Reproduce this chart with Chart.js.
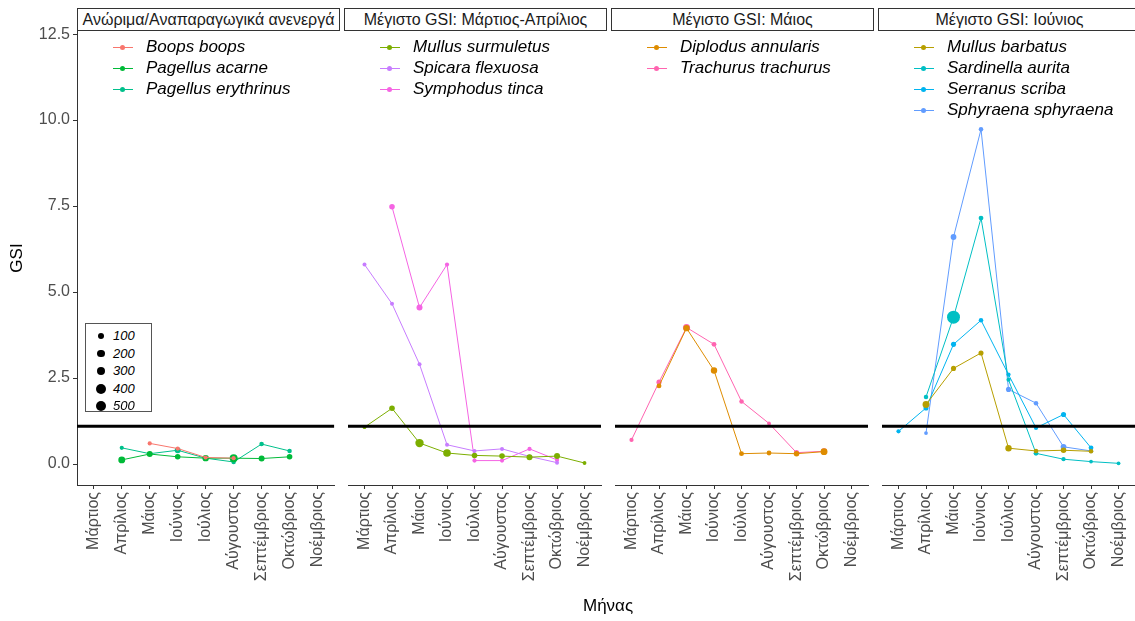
<!DOCTYPE html>
<html>
<head>
<meta charset="utf-8">
<script src="https://cdn.jsdelivr.net/npm/chart.js@4.4.1/dist/chart.umd.min.js"></script>
<style>
  html, body { margin: 0; padding: 0; background: #fff; overflow: hidden; }
  body { width: 1135px; height: 621px; position: relative; font-family: "Liberation Sans", Arial, sans-serif; }
  canvas { position: absolute; top: 0; }
  .strip { position: absolute; top: 8px; height: 23px; border: 1px solid #333; background: #fff;
           font-size: 16px; line-height: 21px; text-align: center; color: #1a1a1a; box-sizing: border-box; white-space: nowrap; }
  .legend { position: absolute; top: 36px; font-size: 17px; font-style: italic; color: #000; }
  .legend .row { height: 21px; line-height: 21px; position: relative; padding-left: 35px; white-space: nowrap; }
  .legend .key { position: absolute; left: 2px; top: 11px; width: 20px; height: 1px; }
  .legend .dot { position: absolute; left: 9px; top: 9px; width: 5px; height: 5px; border-radius: 50%; }
  .sizebox { position: absolute; left: 85px; top: 323px; width: 67px; height: 89px; border: 1px solid #555;
             box-sizing: border-box; background: #fff; font-size: 13px; font-style: italic; }
  .sizebox .row { position: absolute; left: 0; width: 64px; height: 17px; }
  .sizebox .c { position: absolute; background: #000; border-radius: 50%; }
  .sizebox .t { position: absolute; left: 27px; top: 1px; }
  .xtitle { position: absolute; left: 583px; top: 596px; font-size: 17px; color: #000; }
</style>
</head>
<body>
<script>
const months = ['Μάρτιος', 'Απρίλιος', 'Μάιος', 'Ιούνιος', 'Ιούλιος', 'Αύγουστος', 'Σεπτέμβριος', 'Οκτώβριος', 'Νοέμβριος'];
const yTicks = [0, 2.5, 5, 7.5, 10, 12.5];
const threshold = 1.1;
const sizeBreaks = [100, 200, 300, 400, 500];

const facetTitles = ['Ανώριμα/Αναπαραγωγικά ανενεργά', 'Μέγιστο GSI: Μάρτιος-Απρίλιος', 'Μέγιστο GSI: Μάιος', 'Μέγιστο GSI: Ιούνιος'];

// GSI per month (Μάρτιος..Νοέμβριος), null = no sample
const boopsBoops        = [null, null, 0.60, 0.45, 0.19, 0.17, null, null, null];
const pagellusAcarne    = [null, 0.12, 0.29, 0.21, 0.17, 0.17, 0.16, 0.21, null];
const pagellusErythrinus= [null, 0.47, 0.30, 0.40, 0.17, 0.06, 0.58, 0.38, null];
const mullusSurmuletus  = [1.07, 1.62, 0.61, 0.32, 0.25, 0.23, 0.20, 0.23, 0.03];
const spicaraFlexuosa   = [5.80, 4.66, 2.90, 0.56, 0.38, 0.44, 0.22, 0.04, null];
const symphodusTinca    = [null, 7.48, 4.55, 5.80, 0.10, 0.10, 0.44, 0.12, null];
const diplodusAnnularis = [null, 2.27, 3.95, 2.72, 0.30, 0.32, 0.30, 0.36, null];
const trachurusTrachurus= [0.70, 2.38, 3.97, 3.48, 1.82, 1.18, 0.33, 0.37, null];
const mullusBarbatus    = [null, 1.73, 2.78, 3.23, 0.46, 0.38, 0.40, 0.37, null];
const sardinellaAurita  = [null, 1.95, 4.27, 7.15, 2.45, 0.31, 0.14, 0.07, 0.02];
const serranusScriba    = [0.95, 1.63, 3.48, 4.18, 2.60, 1.05, 1.44, 0.47, null];
const sphyraenaSphyraena= [null, 0.90, 6.60, 9.73, 2.17, 1.77, 0.50, 0.38, null];

// sample size per month (drives point size)
const nBoops       = [0, 0, 30, 30, 30, 30, 0, 0, 0];
const nAcarne      = [0, 150, 100, 80, 120, 220, 100, 80, 0];
const nErythrinus  = [0, 30, 40, 100, 40, 40, 40, 40, 0];
const nSurmuletus  = [20, 80, 250, 200, 80, 80, 100, 100, 20];
const nSpicara     = [25, 25, 25, 25, 25, 25, 25, 25, 0];
const nSymphodus   = [0, 80, 100, 30, 30, 30, 30, 30, 0];
const nDiplodus    = [0, 50, 120, 120, 50, 50, 80, 150, 0];
const nTrachurus   = [30, 60, 160, 50, 40, 20, 60, 100, 0];
const nBarbatus    = [0, 150, 60, 60, 120, 40, 80, 40, 0];
const nSardinella  = [0, 40, 750, 50, 30, 50, 30, 20, 20];
const nSerranus    = [30, 60, 60, 40, 30, 30, 60, 50, 0];
const nSphyraena   = [0, 20, 90, 40, 60, 40, 90, 40, 0];

const facets = [
  [
    { name: 'Boops boops', v: boopsBoops, n: nBoops, color: '#F8766D' },
    { name: 'Pagellus acarne', v: pagellusAcarne, n: nAcarne, color: '#00BA38' },
    { name: 'Pagellus erythrinus', v: pagellusErythrinus, n: nErythrinus, color: '#00C08B' }
  ],
  [
    { name: 'Mullus surmuletus', v: mullusSurmuletus, n: nSurmuletus, color: '#7CAE00' },
    { name: 'Spicara flexuosa', v: spicaraFlexuosa, n: nSpicara, color: '#C77CFF' },
    { name: 'Symphodus tinca', v: symphodusTinca, n: nSymphodus, color: '#F564E3' }
  ],
  [
    { name: 'Diplodus annularis', v: diplodusAnnularis, n: nDiplodus, color: '#DE8C00' },
    { name: 'Trachurus trachurus', v: trachurusTrachurus, n: nTrachurus, color: '#FF64B0' }
  ],
  [
    { name: 'Mullus barbatus', v: mullusBarbatus, n: nBarbatus, color: '#B79F00' },
    { name: 'Sardinella aurita', v: sardinellaAurita, n: nSardinella, color: '#00BFC4' },
    { name: 'Serranus scriba', v: serranusScriba, n: nSerranus, color: '#00B4F0' },
    { name: 'Sphyraena sphyraena', v: sphyraenaSphyraena, n: nSphyraena, color: '#619CFF' }
  ]
];

const panelLeft = [77, 344, 611, 878];
const panelW = 263;
const yAxisW = 77;
const radius = n => 1 + 0.2 * Math.sqrt(n);

facets.forEach((species, f) => {
  const canvas = document.createElement('canvas');
  const left = f === 0 ? 0 : panelLeft[f];
  const w = f === 0 ? panelLeft[0] + panelW : panelW;
  canvas.width = w;
  canvas.height = 621;
  canvas.style.left = left + 'px';
  document.body.appendChild(canvas);

  const datasets = [{
    data: [{ x: -0.6, y: threshold }, { x: 8.6, y: threshold }],
    borderColor: '#000', borderWidth: 3, pointRadius: 0
  }];
  species.forEach(s => {
    const pts = [], rad = [];
    s.v.forEach((val, i) => {
      if (val !== null) { pts.push({ x: i, y: val }); rad.push(radius(s.n[i])); }
    });
    datasets.push({
      label: s.name, data: pts, borderColor: s.color, backgroundColor: s.color,
      borderWidth: 1, pointRadius: rad, pointBorderWidth: 0
    });
  });

  new Chart(canvas.getContext('2d'), {
    type: 'line',
    data: { datasets: datasets },
    options: {
      responsive: false,
      animation: false,
      layout: { padding: { top: 31, left: 0, right: 0, bottom: 0 } },
      plugins: { legend: { display: false }, tooltip: { enabled: false } },
      scales: {
        x: {
          type: 'linear', min: -0.6, max: 8.6,
          afterBuildTicks: scale => { scale.ticks = months.map((m, i) => ({ value: i })); },
          afterFit: scale => { scale.height = 136; },
          ticks: {
            autoSkip: false, minRotation: 90, maxRotation: 90, padding: 3,
            color: '#4D4D4D', font: { family: 'Liberation Sans', size: 16 },
            callback: v => months[v]
          },
          grid: { drawOnChartArea: false, tickLength: 4, color: '#333' },
          border: { display: true, color: '#333', width: 1 }
        },
        y: {
          display: f === 0,
          min: -0.61, max: 12.59,
          afterBuildTicks: scale => { scale.ticks = yTicks.map(v => ({ value: v })); },
          afterFit: scale => { if (f === 0) scale.width = yAxisW; },
          ticks: {
            padding: 3, color: '#4D4D4D', font: { family: 'Liberation Sans', size: 16 },
            callback: v => v.toFixed(1)
          },
          grid: { drawOnChartArea: false, tickLength: 4, color: '#333' },
          border: { display: true, color: '#333', width: 1 },
          title: { display: true, text: 'GSI', color: '#000', font: { family: 'Liberation Sans', size: 17 }, padding: { top: 7 } }
        }
      }
    }
  });

  // strip label
  const strip = document.createElement('div');
  strip.className = 'strip';
  strip.style.left = panelLeft[f] + 'px';
  strip.style.width = panelW + 'px';
  strip.textContent = facetTitles[f];
  document.body.appendChild(strip);

  // species legend
  const leg = document.createElement('div');
  leg.className = 'legend';
  leg.style.left = (panelLeft[f] + 34) + 'px';
  species.forEach(s => {
    const row = document.createElement('div');
    row.className = 'row';
    row.innerHTML = '<span class="key" style="background:' + s.color + '"></span>' +
      '<span class="dot" style="background:' + s.color + '"></span>' + s.name;
    leg.appendChild(row);
  });
  document.body.appendChild(leg);
});

// size legend
const box = document.createElement('div');
box.className = 'sizebox';
sizeBreaks.forEach((b, i) => {
  const r = radius(b);
  const row = document.createElement('div');
  row.className = 'row';
  row.style.top = (3 + i * 17.5) + 'px';
  row.innerHTML = '<span class="c" style="left:' + (15 - r) + 'px;top:' + (9 - r) + 'px;width:' + (2 * r) + 'px;height:' + (2 * r) + 'px"></span>' +
    '<span class="t">' + b + '</span>';
  box.appendChild(row);
});
document.body.appendChild(box);

const xt = document.createElement('div');
xt.className = 'xtitle';
xt.textContent = 'Μήνας';
document.body.appendChild(xt);
</script>
</body>
</html>
